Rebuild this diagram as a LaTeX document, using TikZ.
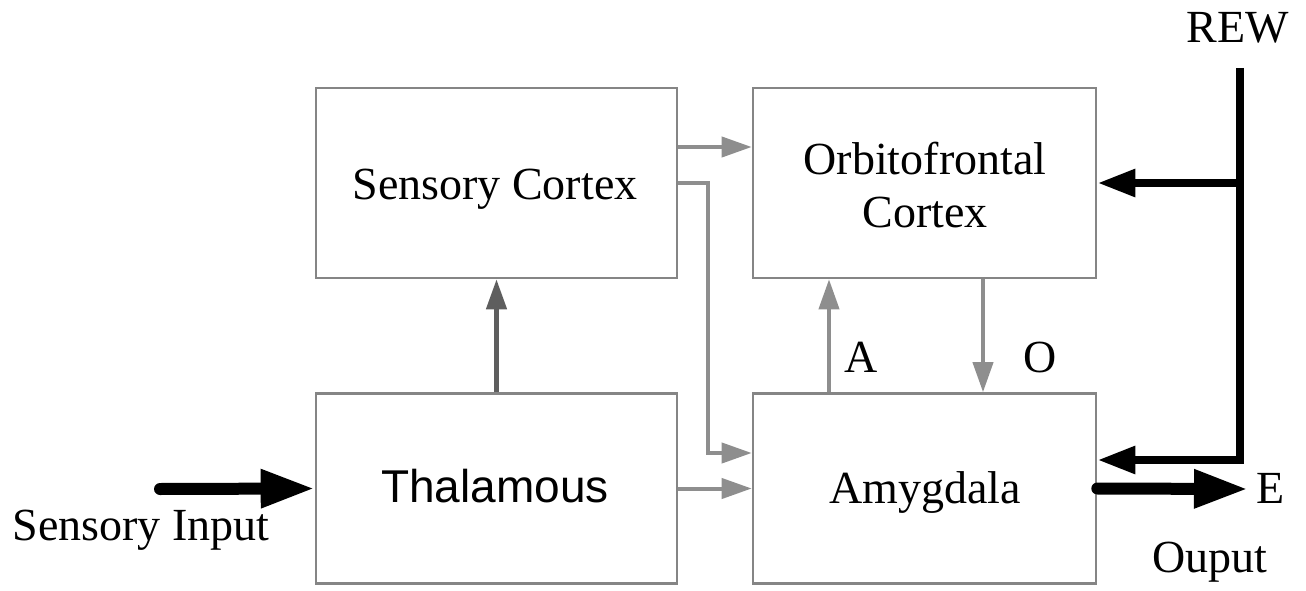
\documentclass[tikz,border=0pt]{standalone}
\usepackage{fontspec}
\setmainfont{Liberation Serif}
\newfontfamily\armfont{Liberation Sans}
\usetikzlibrary{arrows.meta}
\definecolor{boxgray}{HTML}{858585}
\definecolor{lightarrow}{HTML}{8E8E8E}
\definecolor{darkarrow}{HTML}{5E5E5E}
\tikzset{
  block/.style={draw=boxgray, line width=2.6pt, minimum height=190pt, inner sep=0pt},
  lbl/.style={anchor=base, inner sep=0pt, font=\fontsize{46}{52}\selectfont},
  grayflow/.style={draw=lightarrow, line width=4pt,
    -{Triangle[length=30pt,width=20pt]}},
  darkflow/.style={draw=darkarrow, line width=4.5pt,
    -{Triangle[length=30pt,width=20pt]}},
  rewflow/.style={draw=black, line width=8.5pt,
    -{Triangle[length=38pt,width=26pt]}},
  bigflow/.style={draw=black, line width=12pt, line cap=round,
    -{Triangle[length=54pt,width=36pt,line cap=butt]}},
}
\begin{document}
\begin{tikzpicture}[x=1pt,y=-1pt]
\useasboundingbox[fill=white] (0,0) rectangle (1306,591);

% boxes
\node[block, minimum width=361pt] (sc)  at (496.5,183) {};
\node[block, minimum width=343pt] (ofc) at (924.5,183) {};
\node[block, minimum width=361pt] (th)  at (496.5,488.5) {};
\node[block, minimum width=343pt] (am)  at (924.5,488.5) {};

% box labels
\node[lbl] (scl)  at (495,199) {Sensory Cortex};
\node[lbl] (ofl1) at (925,175) {Orbitofrontal};
\node[lbl] (ofl2) at (925,227) {Cortex};
\node[lbl, font=\armfont\fontsize{46}{52}\selectfont] (thl) at (495,502) {Thalamous};
\node[lbl] (aml)  at (925,503) {Amygdala};

% free labels
\node[lbl] (rew)  at (1238,43) {REW};
\node[lbl] (sinl) at (141,540) {Sensory Input};
\node[lbl] (outl) at (1210,572) {Ouput};
\node[lbl, anchor=base west] (e) at (1256,503) {E};
\node[lbl] (al) at (861,372) {A};
\node[lbl] (ol) at (1040,372) {O};

% internal pathways
\draw[grayflow] ([yshift=36pt]sc.east) -- ([yshift=36pt]ofc.west);
\draw[grayflow] (sc.east) -- ++(30,0) |- ([yshift=35.5pt]am.west);
\draw[grayflow] (th.east) -- (am.west);
\draw[darkflow] (th.north) -- (sc.south);
\draw[grayflow] ([xshift=-95.5pt]am.north) -- ([xshift=-95.5pt]ofc.south);
\draw[grayflow] ([xshift=58.5pt]ofc.south) -- ([xshift=58.5pt]am.north);

% reward signal
\coordinate (rewtop) at (1240,68);
\coordinate (rewjoin) at (1240,183);
\draw[rewflow, line join=miter] (rewtop) |- ([yshift=28.5pt]am.east);
\draw[rewflow] (rewjoin) -- (ofc.east);

% input and output
\coordinate (sin) at (160,489);
\coordinate (eout) at (1248,489);
\draw[bigflow] (sin) -- (th.west);
\draw[bigflow] (am.east) -- (eout);
\end{tikzpicture}
\end{document}
